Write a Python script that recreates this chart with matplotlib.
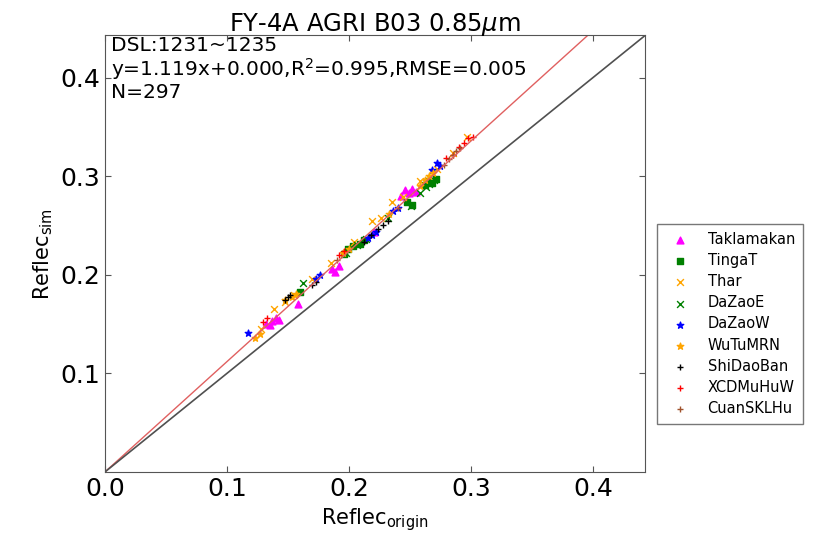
import matplotlib
matplotlib.use("Agg")
import matplotlib.pyplot as plt
import numpy as np

# site samples: (Reflec_origin, Reflec_sim)
tak_x = [0.132, 0.135, 0.137, 0.140, 0.143, 0.158, 0.186, 0.189, 0.192, 0.221, 0.243, 0.246, 0.249, 0.252, 0.255]
tak_y = [0.150, 0.149, 0.153, 0.156, 0.154, 0.170, 0.206, 0.203, 0.209, 0.243, 0.280, 0.286, 0.283, 0.287, 0.284]

tin_x = [0.160, 0.196, 0.199, 0.203, 0.209, 0.212, 0.248, 0.252, 0.262, 0.265, 0.268, 0.271]
tin_y = [0.183, 0.221, 0.226, 0.229, 0.231, 0.235, 0.274, 0.271, 0.291, 0.295, 0.293, 0.297]

thar_x = [0.128, 0.139, 0.148, 0.155, 0.170, 0.185, 0.204, 0.219, 0.226, 0.235, 0.244, 0.258, 0.272, 0.285, 0.297]
thar_y = [0.145, 0.165, 0.172, 0.180, 0.196, 0.212, 0.233, 0.255, 0.258, 0.274, 0.279, 0.295, 0.307, 0.324, 0.340]

dze_x = [0.162, 0.198, 0.207, 0.214, 0.232, 0.251, 0.258, 0.263, 0.266, 0.270]
dze_y = [0.192, 0.222, 0.230, 0.236, 0.258, 0.270, 0.283, 0.289, 0.292, 0.296]

dzw_x = [0.117, 0.173, 0.176, 0.216, 0.219, 0.222, 0.236, 0.240, 0.268, 0.272, 0.275]
dzw_y = [0.141, 0.196, 0.200, 0.237, 0.240, 0.243, 0.265, 0.268, 0.306, 0.313, 0.310]

wu_x = [0.123, 0.127, 0.148, 0.153, 0.157, 0.195, 0.200, 0.233, 0.258, 0.262, 0.266, 0.269]
wu_y = [0.136, 0.140, 0.175, 0.178, 0.181, 0.222, 0.226, 0.262, 0.290, 0.296, 0.300, 0.303]

shi_x = [0.148, 0.150, 0.152, 0.170, 0.173, 0.212, 0.218, 0.224, 0.228, 0.232]
shi_y = [0.174, 0.178, 0.180, 0.190, 0.193, 0.233, 0.240, 0.246, 0.251, 0.255]

xcd_x = [0.130, 0.133, 0.192, 0.196, 0.280, 0.285, 0.290, 0.294, 0.298, 0.302]
xcd_y = [0.152, 0.156, 0.220, 0.224, 0.318, 0.322, 0.330, 0.334, 0.339, 0.340]

cuan_x = [0.190, 0.240, 0.278, 0.282, 0.285, 0.288, 0.291]
cuan_y = [0.215, 0.268, 0.311, 0.317, 0.322, 0.326, 0.329]

site_names = ["Taklamakan", "TingaT", "Thar", "DaZaoE", "DaZaoW",
              "WuTuMRN", "ShiDaoBan", "XCDMuHuW", "CuanSKLHu"]
site_data = [(tak_x, tak_y), (tin_x, tin_y), (thar_x, thar_y), (dze_x, dze_y),
             (dzw_x, dzw_y), (wu_x, wu_y), (shi_x, shi_y), (xcd_x, xcd_y),
             (cuan_x, cuan_y)]
site_markers = ["^", "s", "x", "x", "*", "*", "+", "+", "+"]
site_colors = ["magenta", "green", "orange", "green", "blue",
               "orange", "black", "red", "sienna"]

slope = 1.119
intercept = 0.000
lim = 0.443

fig = plt.figure(figsize=(8.19, 5.34), dpi=100)
ax = fig.add_axes([0.128, 0.116, 0.66, 0.818])

line = np.array([0.0, lim])
ax.plot(line, slope * line + intercept, color="#e06060", lw=1.0)
ax.plot(line, line, color="#505050", lw=1.2)

for name, (xs, ys), m, c in zip(site_names, site_data, site_markers, site_colors):
    ax.scatter(xs, ys, marker=m, color=c, s=24, linewidths=1.0, label=name)

ax.set_xlim(0, lim)
ax.set_ylim(0, lim)
ax.set_xticks([0.0, 0.1, 0.2, 0.3, 0.4])
ax.set_yticks([0.1, 0.2, 0.3, 0.4])
ax.tick_params(direction="in", top=True, right=True, labelsize=18, length=4,
               color="#555555")
for sp in ax.spines.values():
    sp.set_color("#555555")

ax.set_title("FY-4A AGRI B03 0.85$\\mu$m", fontsize=17.5, pad=3)
ax.set_xlabel("Reflec$_{\\mathrm{origin}}$", fontsize=15)
ax.set_ylabel("Reflec$_{\\mathrm{sim}}$", fontsize=15)

ax.text(0.012, 0.998,
        "DSL:1231~1235\n"
        "y=1.119x+0.000,R$^2$=0.995,RMSE=0.005\n"
        "N=297",
        transform=ax.transAxes, va="top", ha="left", fontsize=14.5,
        linespacing=1.05)

ax.legend(loc="center left", bbox_to_anchor=(1.022, 0.339), fontsize=10.5,
          scatterpoints=1, labelspacing=0.42, fancybox=False,
          edgecolor="#555555", borderpad=0.55, handletextpad=0.9,
          borderaxespad=0.0)

fig.savefig("out.png", dpi=100)
